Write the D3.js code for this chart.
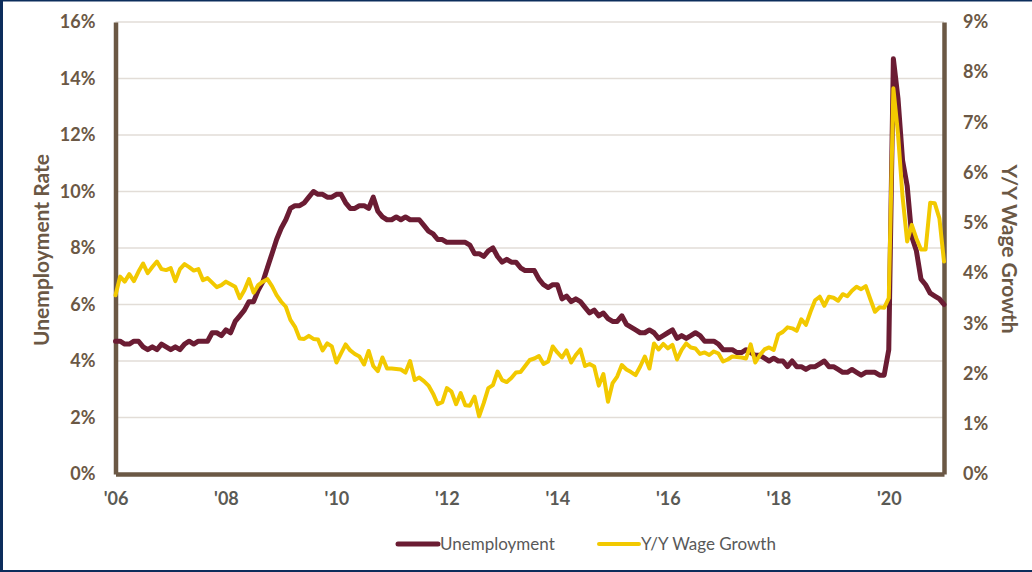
<!DOCTYPE html>
<html>
<head>
<meta charset="utf-8">
<script src="https://cdn.jsdelivr.net/npm/d3@7/dist/d3.min.js"></script>
<style>
  html, body { margin: 0; padding: 0; background: #ffffff; }
  svg { display: block; }
</style>
</head>
<body>
<svg id="chart" width="1032" height="572"></svg>
<script>
// Monthly observations, Mar 2006 .. Mar 2021
const startYear = 2006, startMonth = 2; // March (0-based)
const unemployment = [
  4.7, 4.7, 4.6, 4.6, 4.7, 4.7, 4.5, 4.4, 4.5, 4.4,
  4.6, 4.5, 4.4, 4.5, 4.4, 4.6, 4.7, 4.6, 4.7, 4.7, 4.7, 5.0,
  5.0, 4.9, 5.1, 5.0, 5.4, 5.6, 5.8, 6.1, 6.1, 6.5, 6.8, 7.3,
  7.8, 8.3, 8.7, 9.0, 9.4, 9.5, 9.5, 9.6, 9.8, 10.0, 9.9, 9.9,
  9.8, 9.8, 9.9, 9.9, 9.6, 9.4, 9.4, 9.5, 9.5, 9.4, 9.8, 9.3,
  9.1, 9.0, 9.0, 9.1, 9.0, 9.1, 9.0, 9.0, 9.0, 8.8, 8.6, 8.5,
  8.3, 8.3, 8.2, 8.2, 8.2, 8.2, 8.2, 8.1, 7.8, 7.8, 7.7, 7.9,
  8.0, 7.7, 7.5, 7.6, 7.5, 7.5, 7.3, 7.2, 7.2, 7.2, 6.9, 6.7,
  6.6, 6.7, 6.7, 6.2, 6.3, 6.1, 6.2, 6.1, 5.9, 5.7, 5.8, 5.6,
  5.7, 5.5, 5.4, 5.4, 5.6, 5.3, 5.2, 5.1, 5.0, 5.0, 5.1, 5.0,
  4.8, 4.9, 5.0, 5.1, 4.8, 4.9, 4.8, 4.9, 5.0, 4.9, 4.7, 4.7,
  4.7, 4.6, 4.4, 4.4, 4.4, 4.3, 4.3, 4.4, 4.3, 4.2, 4.2, 4.1,
  4.0, 4.1, 4.0, 4.0, 3.8, 4.0, 3.8, 3.8, 3.7, 3.8, 3.8, 3.9,
  4.0, 3.8, 3.8, 3.7, 3.6, 3.6, 3.7, 3.6, 3.5, 3.6, 3.6, 3.6,
  3.5, 3.5, 4.4, 14.7, 13.3, 11.1, 10.2, 8.4, 7.9, 6.9, 6.7, 6.4,
  6.3, 6.2, 6.0
];
const wageGrowth = [
  3.56, 3.93, 3.83, 3.98, 3.84, 4.03, 4.19, 4.00, 4.12, 4.23,
  4.08, 4.06, 4.10, 3.84, 4.08, 4.18, 4.12, 4.05, 4.08, 3.86,
  3.90, 3.81, 3.72, 3.76, 3.83, 3.78, 3.73, 3.50, 3.66, 3.88,
  3.61, 3.76, 3.83, 3.88, 3.74, 3.56, 3.43, 3.33, 3.07, 2.93,
  2.70, 2.69, 2.75, 2.69, 2.68, 2.46, 2.60, 2.54, 2.22, 2.40,
  2.58, 2.46, 2.39, 2.34, 2.18, 2.45, 2.15, 2.05, 2.32, 2.10,
  2.10, 2.09, 2.08, 2.02, 2.25, 1.87, 1.92, 1.85, 1.76, 1.60,
  1.39, 1.43, 1.71, 1.64, 1.39, 1.61, 1.37, 1.36, 1.54, 1.15,
  1.41, 1.71, 1.77, 2.04, 1.87, 1.83, 1.91, 2.02, 2.03, 2.15,
  2.27, 2.30, 2.35, 2.19, 2.24, 2.54, 2.42, 2.32, 2.46, 2.22,
  2.37, 2.48, 2.15, 2.19, 2.14, 1.76, 1.99, 1.44, 1.81, 1.94,
  2.17, 2.08, 2.03, 1.97, 2.14, 2.34, 2.10, 2.60, 2.48, 2.59,
  2.50, 2.57, 2.28, 2.47, 2.60, 2.52, 2.50, 2.39, 2.42, 2.37,
  2.44, 2.40, 2.24, 2.28, 2.34, 2.33, 2.32, 2.30, 2.58, 2.22,
  2.37, 2.48, 2.52, 2.47, 2.78, 2.83, 2.92, 2.90, 2.85, 3.08,
  2.97, 3.23, 3.46, 3.53, 3.35, 3.53, 3.51, 3.45, 3.58, 3.54,
  3.65, 3.73, 3.68, 3.74, 3.48, 3.23, 3.32, 3.31, 3.50, 7.68,
  6.78, 5.52, 4.63, 4.96, 4.69, 4.47, 4.47, 5.40, 5.39, 5.09,
  4.23
];
const leftTicks = [0, 2, 4, 6, 8, 10, 12, 14, 16];
const rightTicks = [0, 1, 2, 3, 4, 5, 6, 7, 8, 9];
const xTickEvery = 24;
const xTickLabels = ["'06", "'08", "'10", "'12", "'14", "'16", "'18", "'20"];
const seriesNames = ["Unemployment", "Y/Y Wage Growth"];
const leftTitle = "Unemployment Rate";
const rightTitle = "Y/Y Wage Growth";

const months = unemployment.map((_, i) => new Date(startYear, startMonth + i, 1));

const C = {
  maroon: "#6b1c33", yellow: "#f2c900", axis: "#6b5845",
  grid: "#e2ddd7", tick: "#6b5845", xtick: "#5a5a55", legend: "#595959", frame: "#0c2d5c"
};
const FONT = "Lato, 'Open Sans', sans-serif";

const svg = d3.select("#chart");
const L = 115.5, R = 944, T = 22, B = 474;

const x = d3.scalePoint().domain(d3.range(months.length)).range([L, R]);
const yL = d3.scaleLinear().domain([0, 16]).range([B, T]);
const yR = d3.scaleLinear().domain([0, 9]).range([B, T]);

// frame
svg.append("rect").attr("x", 0).attr("y", 0).attr("width", 1032).attr("height", 572).attr("fill", "#fff");
svg.append("rect").attr("x", 0).attr("y", 0).attr("width", 1032).attr("height", 1.5).attr("fill", C.frame);
svg.append("rect").attr("x", 0).attr("y", 0).attr("width", 3).attr("height", 572).attr("fill", C.frame);
svg.append("rect").attr("x", 0).attr("y", 570).attr("width", 1032).attr("height", 2).attr("fill", C.frame);

// gridlines
svg.append("g").selectAll("line").data(leftTicks.filter(d => d > 0)).join("line")
  .attr("x1", L).attr("x2", R).attr("y1", d => yL(d)).attr("y2", d => yL(d))
  .attr("stroke", C.grid).attr("stroke-width", 1.5);

// left axis
const gL = svg.append("g").attr("transform", `translate(${L},0)`)
  .call(d3.axisLeft(yL).tickValues(leftTicks).tickFormat(d => d + "%").tickSize(0).tickPadding(20));
gL.select(".domain").attr("stroke", C.axis).attr("stroke-width", 4.5);
gL.selectAll("text").attr("fill", C.tick).attr("font-family", FONT).attr("font-weight", "bold").attr("font-size", 18);

// right axis
const gR = svg.append("g").attr("transform", `translate(${R},0)`)
  .call(d3.axisRight(yR).tickValues(rightTicks).tickFormat(d => d + "%").tickSize(0).tickPadding(19));
gR.select(".domain").attr("stroke", C.axis).attr("stroke-width", 4.5);
gR.selectAll("text").attr("fill", C.tick).attr("font-family", FONT).attr("font-weight", "bold").attr("font-size", 18);

// bottom axis
const xTickIdx = xTickLabels.map((_, k) => k * xTickEvery);
const gB = svg.append("g").attr("transform", `translate(0,${B})`)
  .call(d3.axisBottom(x).tickValues(xTickIdx).tickFormat((d, k) => xTickLabels[k]).tickSize(0).tickPadding(18));
gB.select(".domain").attr("stroke", C.axis).attr("stroke-width", 4.5);
gB.selectAll("text").attr("fill", C.xtick).attr("font-family", FONT).attr("font-weight", "bold").attr("font-size", 18);

// axis titles
svg.append("text").attr("transform", `translate(49,${(T + B) / 2 + 2}) rotate(-90)`)
  .attr("text-anchor", "middle").attr("fill", C.tick).attr("font-family", FONT)
  .attr("font-weight", "bold").attr("font-size", 21).text(leftTitle);
svg.append("text").attr("transform", `translate(1002,${(T + B) / 2 + 1}) rotate(90)`)
  .attr("text-anchor", "middle").attr("fill", C.tick).attr("font-family", FONT)
  .attr("font-weight", "bold").attr("font-size", 21).text(rightTitle);

// lines
const lineU = d3.line().x((d, i) => x(i)).y(d => yL(d));
const lineW = d3.line().x((d, i) => x(i)).y(d => yR(d));
svg.append("path").datum(unemployment).attr("d", lineU).attr("fill", "none")
  .attr("stroke", C.maroon).attr("stroke-width", 5).attr("stroke-linejoin", "round").attr("stroke-linecap", "round");
svg.append("path").datum(wageGrowth).attr("d", lineW).attr("fill", "none")
  .attr("stroke", C.yellow).attr("stroke-width", 4).attr("stroke-linejoin", "round").attr("stroke-linecap", "round");

// legend
const legend = [
  { name: seriesNames[0], color: C.maroon, w: 5, x0: 398 },
  { name: seriesNames[1], color: C.yellow, w: 4, x0: 599 }
];
const lg = svg.append("g");
legend.forEach(it => {
  lg.append("line").attr("x1", it.x0).attr("x2", it.x0 + 40).attr("y1", 544).attr("y2", 544)
    .attr("stroke", it.color).attr("stroke-width", it.w).attr("stroke-linecap", "round");
  lg.append("text").attr("x", it.x0 + 42).attr("y", 550).attr("fill", C.legend)
    .attr("font-family", FONT).attr("font-size", 17).text(it.name);
});
</script>
</body>
</html>
